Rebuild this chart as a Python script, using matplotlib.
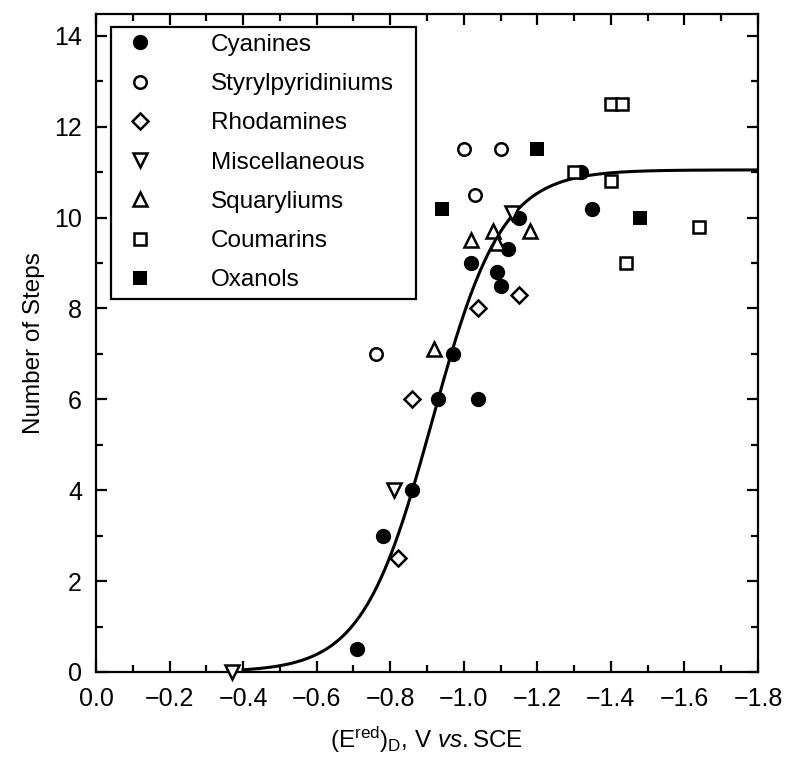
import numpy as np
import matplotlib
matplotlib.use("Agg")
import matplotlib.pyplot as plt
from matplotlib.ticker import MultipleLocator

plt.rcParams["font.family"] = ["Liberation Sans", "DejaVu Sans"]
plt.rcParams["mathtext.fontset"] = "custom"
plt.rcParams["mathtext.rm"] = "Liberation Sans"
plt.rcParams["mathtext.it"] = "Liberation Sans:italic"

# data: reduction potential (V vs SCE), number of steps
cyan_x = [-0.71, -0.78, -0.86, -0.93, -1.04, -0.97, -1.02, -1.09, -1.10, -1.12, -1.15, -1.32, -1.35]
cyan_y = [0.5, 3.0, 4.0, 6.0, 6.0, 7.0, 9.0, 8.8, 8.5, 9.3, 10.0, 11.0, 10.2]

styr_x = [-0.76, -1.00, -1.10, -1.03]
styr_y = [7.0, 11.5, 11.5, 10.5]

rhod_x = [-0.82, -0.86, -1.04, -1.15]
rhod_y = [2.5, 6.0, 8.0, 8.3]

misc_x = [-0.37, -0.81, -1.13]
misc_y = [0.0, 4.0, 10.1]

squa_x = [-0.92, -1.02, -1.08, -1.09, -1.18]
squa_y = [7.1, 9.5, 9.7, 9.45, 9.7]

coum_x = [-1.30, -1.40, -1.44, -1.64, -1.40, -1.43]
coum_y = [11.0, 10.8, 9.0, 9.8, 12.5, 12.5]

oxan_x = [-1.20, -0.94, -1.48]
oxan_y = [11.5, 10.2, 10.0]

# sigmoid fit drawn through the data
fit_top = 11.05
fit_mid = -0.914
fit_width = 0.0947

FS = 17.5


def main():
    fig = plt.figure(figsize=(7.85, 7.67), dpi=100)
    ax = fig.add_axes([0.1223, 0.1239, 0.8433, 0.8578])

    xf = np.linspace(-0.40, -1.8, 300)
    yf = fit_top / (1 + np.exp((xf - fit_mid) / fit_width))
    ax.plot(xf, yf, color="black", lw=2.2, zorder=2)

    mew = 1.8
    common = dict(ls="none", color="black", clip_on=False, zorder=3)
    ax.plot(cyan_x, cyan_y, marker="o", ms=11, mfc="black", mew=0, label="Cyanines", **common)
    ax.plot(styr_x, styr_y, marker="o", ms=9, mfc="white", mew=mew, label="Styrylpyridiniums", **common)
    ax.plot(rhod_x, rhod_y, marker="D", ms=8.5, mfc="white", mew=mew, label="Rhodamines", **common)
    ax.plot(misc_x, misc_y, marker="v", ms=10, mfc="white", mew=mew, label="Miscellaneous", **common)
    ax.plot(squa_x, squa_y, marker="^", ms=10, mfc="white", mew=mew, label="Squaryliums", **common)
    ax.plot(coum_x, coum_y, marker="s", ms=9, mfc="white", mew=mew, label="Coumarins", **common)
    ax.plot(oxan_x, oxan_y, marker="s", ms=10, mfc="black", mew=0, label="Oxanols", **common)

    ax.set_xlim(0, -1.8)
    ax.set_ylim(0, 14.48)
    ax.xaxis.set_major_locator(MultipleLocator(0.2))
    ax.xaxis.set_minor_locator(MultipleLocator(0.1))
    ax.yaxis.set_major_locator(MultipleLocator(2))
    ax.yaxis.set_minor_locator(MultipleLocator(1))
    ax.xaxis.set_major_formatter(lambda v, p: f"{v:.1f}".replace("-", "\u2212"))

    for s in ax.spines.values():
        s.set_linewidth(1.6)
    ax.tick_params(which="both", direction="in", top=True, right=True, width=1.6)
    ax.tick_params(which="major", length=8, labelsize=18, pad=10)
    ax.tick_params(which="minor", length=5)
    ax.tick_params(axis="x", which="major", pad=11)

    ax.set_ylabel("Number of Steps", fontsize=FS, labelpad=7)
    ax.set_xlabel(r"(E$^{\rm red}$)$_{\rm D}$, V $\it{vs.}$SCE", fontsize=FS, labelpad=10)

    leg = ax.legend(loc="upper left", bbox_to_anchor=(0.0227, 0.576, 0.4607, 0.405),
                    mode="expand", borderaxespad=0,
                    fontsize=FS, frameon=True, fancybox=False, handlelength=1.8,
                    handletextpad=2.0, labelspacing=0.71, borderpad=0.3, numpoints=1)
    fr = leg.get_frame()
    fr.set_edgecolor("black")
    fr.set_linewidth(1.6)
    fr.set_alpha(1)

    fig.savefig("out.png", dpi=100)
    plt.close(fig)


if __name__ == "__main__":
    main()
